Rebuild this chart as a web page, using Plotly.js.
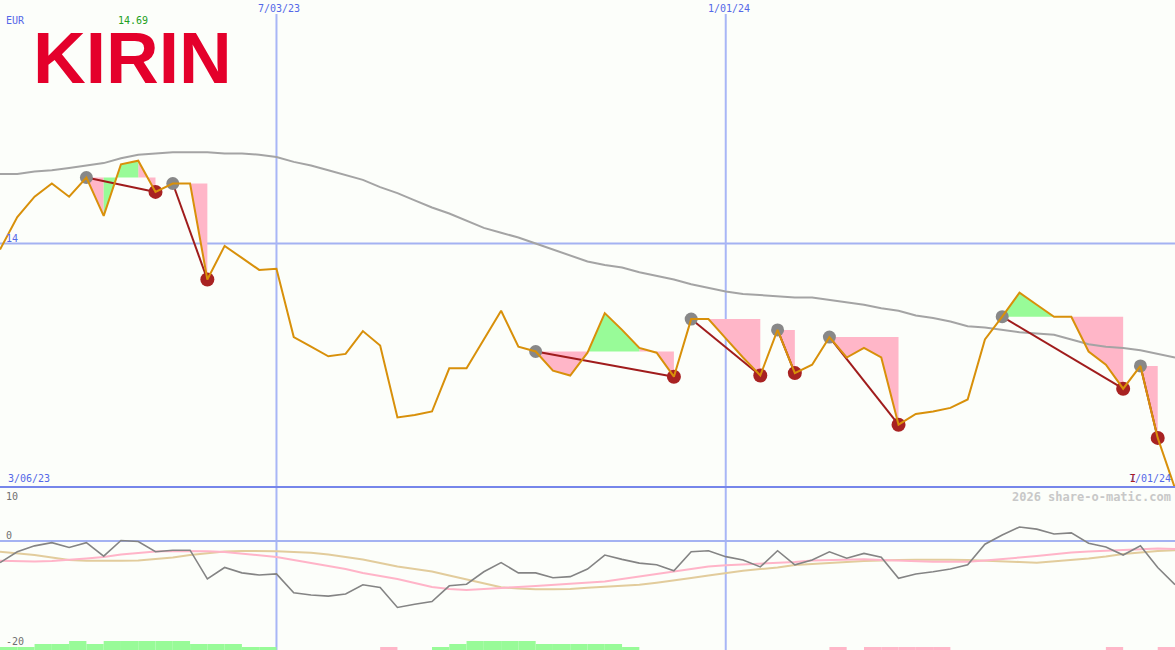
<!DOCTYPE html>
<html><head><meta charset="utf-8">
<script src="https://cdn.plot.ly/plotly-3.0.1.min.js"></script>
<style>html,body{margin:0;padding:0;background:#fcfefa;}#chart{width:1175px;height:650px;}</style>
</head><body><div id="chart"></div>
<script>
// ---- data ----
const weeks = [
 '2023-03-13','2023-03-20','2023-03-27','2023-04-03','2023-04-10','2023-04-17','2023-04-24','2023-05-01','2023-05-08','2023-05-15',
 '2023-05-22','2023-05-29','2023-06-05','2023-06-12','2023-06-19','2023-06-26','2023-07-03','2023-07-10','2023-07-17','2023-07-24',
 '2023-07-31','2023-08-07','2023-08-14','2023-08-21','2023-08-28','2023-09-04','2023-09-11','2023-09-18','2023-09-25','2023-10-02',
 '2023-10-09','2023-10-16','2023-10-23','2023-10-30','2023-11-06','2023-11-13','2023-11-20','2023-11-27','2023-12-04','2023-12-11',
 '2023-12-18','2023-12-25','2024-01-01','2024-01-08','2024-01-15','2024-01-22','2024-01-29','2024-02-05','2024-02-12','2024-02-19',
 '2024-02-26','2024-03-04','2024-03-11','2024-03-18','2024-03-25','2024-04-01','2024-04-08','2024-04-15','2024-04-22','2024-04-29',
 '2024-05-06','2024-05-13','2024-05-20','2024-05-27','2024-06-03','2024-06-10','2024-06-17','2024-06-24','2024-07-01'];

const price = [13.95,14.22,14.39,14.50,14.39,14.55,14.23,14.66,14.69,14.43,
 14.50,14.50,13.70,13.98,13.88,13.78,13.79,13.22,13.14,13.06,
 13.08,13.27,13.15,12.55,12.57,12.60,12.96,12.96,13.20,13.44,
 13.14,13.10,12.94,12.90,13.09,13.42,13.28,13.13,13.09,12.89,
 13.37,13.37,13.21,13.05,12.90,13.28,12.92,12.99,13.22,13.05,
 13.13,13.05,12.49,12.58,12.60,12.63,12.70,13.20,13.39,13.59,
 13.49,13.39,13.39,13.10,12.99,12.79,12.98,12.38,11.96];

const movingAvg = [14.58,14.58,14.60,14.61,14.63,14.65,14.67,14.71,14.74,14.75,
 14.76,14.76,14.76,14.75,14.75,14.74,14.72,14.68,14.65,14.61,
 14.57,14.53,14.47,14.42,14.36,14.30,14.25,14.19,14.13,14.09,
 14.05,14.00,13.95,13.90,13.85,13.82,13.80,13.76,13.73,13.70,
 13.66,13.63,13.60,13.58,13.57,13.56,13.55,13.55,13.53,13.51,
 13.49,13.46,13.44,13.40,13.38,13.35,13.31,13.30,13.28,13.26,
 13.25,13.24,13.20,13.16,13.14,13.13,13.11,13.08,13.05];

const oscillator = [-4.0,-2.0,-0.9,-0.3,-1.2,-0.3,-2.8,0.1,-0.1,-2.0,
 -1.7,-1.7,-7.0,-4.9,-5.9,-6.3,-6.1,-9.6,-10.0,-10.2,
 -9.8,-8.1,-8.6,-12.3,-11.7,-11.2,-8.3,-8.0,-5.7,-4.0,
 -5.9,-5.9,-6.8,-6.6,-5.2,-2.6,-3.4,-4.1,-4.4,-5.5,
 -2.0,-1.8,-2.9,-3.5,-4.8,-1.8,-4.4,-3.5,-2.0,-3.2,
 -2.3,-3.0,-6.9,-6.1,-5.7,-5.2,-4.4,-0.6,1.1,2.6,
 2.2,1.3,1.5,-0.4,-1.1,-2.6,-0.9,-4.9,-8.1];

const signalPink = [-3.65,-3.76,-3.80,-3.70,-3.52,-3.24,-2.96,-2.50,-2.22,-1.94,
 -1.85,-1.85,-1.91,-2.04,-2.31,-2.59,-2.96,-3.52,-4.07,-4.63,
 -5.19,-5.93,-6.48,-7.04,-7.78,-8.52,-8.89,-9.07,-8.89,-8.76,
 -8.52,-8.33,-8.15,-7.96,-7.69,-7.50,-7.04,-6.57,-6.02,-5.56,
 -5.09,-4.72,-4.50,-4.35,-4.17,-4.07,-3.89,-3.61,-3.52,-3.46,
 -3.39,-3.52,-3.65,-3.76,-3.83,-3.83,-3.83,-3.61,-3.39,-3.06,
 -2.78,-2.41,-2.13,-1.94,-1.80,-1.61,-1.48,-1.39,-1.48];

const signalTan = [-1.98,-2.22,-2.59,-3.06,-3.52,-3.65,-3.70,-3.67,-3.61,-3.37,
 -3.06,-2.59,-2.22,-1.94,-1.85,-1.85,-1.91,-2.04,-2.19,-2.50,
 -2.96,-3.43,-4.07,-4.72,-5.19,-5.65,-6.39,-7.09,-7.87,-8.57,
 -8.80,-8.94,-8.93,-8.89,-8.65,-8.43,-8.24,-8.09,-7.72,-7.35,
 -6.85,-6.39,-5.93,-5.50,-5.19,-4.91,-4.44,-4.22,-4.07,-3.89,
 -3.70,-3.57,-3.52,-3.46,-3.39,-3.46,-3.52,-3.61,-3.70,-3.89,
 -4.02,-3.80,-3.52,-3.24,-2.87,-2.41,-2.13,-1.85,-1.72];

const histogram = [1,1,2,2,3,2,3,3,3,3,
 3,2,2,2,1,1,0,0,0,0,
 0,0,-1,0,0,1,2,3,3,3,
 3,2,2,2,2,2,1,0,0,0,
 0,0,0,0,0,0,0,0,-1,0,
 -1,-1,-1,-1,-1,0,0,0,0,0,
 0,0,0,0,-1,0,0,-1,0];

// peak index -> trough index
const swingPairs = [[5,9],[10,12],[31,39],[40,44],[45,46],[48,52],[58,65],[66,67]];
const priceGrid = [14];
const dateMarks = ['2023-07-03','2024-01-01'];
const dateMarkLabels = ['7/03/23','1/01/24'];

// ---- derived traces ----
const fillPink = {x:[], y:[]}, fillGreen = {x:[], y:[]};
const swingLine = {x:[], y:[]};
swingPairs.forEach(([a,b]) => {
  const L = price[a];
  for (let i=a; i<b; i++) {
    const p0 = price[i], p1 = price[i+1];
    if (p0 === L && p1 === L) continue;
    const t = p1 >= L ? fillGreen : fillPink;
    t.x.push(weeks[i], weeks[i], weeks[i+1], weeks[i+1], null);
    t.y.push(L, p0, p1, L, null);
  }
  swingLine.x.push(weeks[a], weeks[b], null);
  swingLine.y.push(price[a], price[b], null);
});

const W = 7*24*3600*1000;
const traces = [
  {x:fillPink.x, y:fillPink.y, type:'scatter', mode:'none', fill:'toself', fillcolor:'#ffb6c8', hoverinfo:'skip'},
  {x:fillGreen.x, y:fillGreen.y, type:'scatter', mode:'none', fill:'toself', fillcolor:'#98fb98', hoverinfo:'skip'},
  {x:weeks, y:movingAvg, type:'scatter', mode:'lines', line:{color:'#a4a4a4', width:2}},
  {x:swingLine.x, y:swingLine.y, type:'scatter', mode:'lines', line:{color:'#a01c1c', width:2}},
  {x:swingPairs.map(p=>weeks[p[0]]), y:swingPairs.map(p=>price[p[0]]), type:'scatter', mode:'markers', marker:{color:'#888888', size:13}},
  {x:swingPairs.map(p=>weeks[p[1]]), y:swingPairs.map(p=>price[p[1]]), type:'scatter', mode:'markers', marker:{color:'#a82222', size:14}},
  {x:weeks, y:price, type:'scatter', mode:'lines', line:{color:'#d8900a', width:2}},
  // lower pane
  {x:weeks, y:histogram.map(v=>v>0?v:0), type:'bar', yaxis:'y3', marker:{color:'#98fb98', line:{width:0}}, offset:0, width:W},
  {x:weeks, y:histogram.map(v=>v<0?-v:0), type:'bar', yaxis:'y3', marker:{color:'#ffb6c8', line:{width:0}}, offset:0, width:W},
  {x:weeks, y:signalTan, type:'scatter', mode:'lines', yaxis:'y2', line:{color:'#e2cc9c', width:2}},
  {x:weeks, y:signalPink, type:'scatter', mode:'lines', yaxis:'y2', line:{color:'#ffb4c8', width:2}},
  {x:weeks, y:oscillator, type:'scatter', mode:'lines', yaxis:'y2', line:{color:'#848484', width:1.6}}
];

const H = 650, Wd = 1175;
const split = 163/650;
const px = v => v/Wd, py = v => 1 - v/H;
const mono = 'DejaVu Sans Mono';
const blue = '#5468e8';

const shapes = [];
priceGrid.forEach(g => shapes.push({type:'line', xref:'paper', x0:0, x1:1, yref:'y', y0:g, y1:g, line:{color:'#a4b2f2', width:2}, layer:'below'}));
dateMarks.forEach(d => shapes.push({type:'line', xref:'x', x0:d, x1:d, yref:'paper', y0:0, y1:py(14), line:{color:'#a8b6f6', width:2}, layer:'below'}));
shapes.push({type:'line', xref:'paper', x0:0, x1:1, yref:'y2', y0:0, y1:0, line:{color:'#a4b2f2', width:2}, layer:'below'});
shapes.push({type:'line', xref:'paper', x0:0, x1:1, yref:'paper', y0:split, y1:split, line:{color:'#7686ea', width:2}, layer:'above'});

const ann = (text, x, y, opts={}) => Object.assign({text, xref:'paper', yref:'paper', x:px(x), y:py(y), xanchor:'left', yanchor:'middle', showarrow:false, font:{family:mono, size:10, color:blue}}, opts);
const annotations = [
  ann('EUR', 4, 20),
  ann(String(Math.max(...price).toFixed(2)), 116, 20, {font:{family:mono, size:10, color:'#22a022'}}),
  ann('<b>KIRIN</b>', 31, 58, {font:{family:'Liberation Sans', size:73, color:'#e4002b'}}),
  ann(String(priceGrid[0]), 4, 238),
  ann('3/06/23', 6, 478),
  ann('7/01/24', 1173, 478, {xanchor:'right'}),
  ann('I', 1133, 478, {xanchor:'center', font:{family:mono, size:10, color:'#b02020'}}),
  ann('10', 4, 496, {font:{family:mono, size:10, color:'#707070'}}),
  ann('0', 4, 535, {font:{family:mono, size:10, color:'#707070'}}),
  ann('-20', 4, 641, {font:{family:mono, size:10, color:'#707070'}}),
  ann('<b>2026 share-o-matic.com</b>', 1173, 497, {xanchor:'right', font:{family:mono, size:12, color:'#c8c8c8'}})
];
dateMarks.forEach((d,i) => annotations.push({text:dateMarkLabels[i], xref:'x', x:d, yref:'paper', y:py(8), xanchor:'center', yanchor:'middle', xshift:3, showarrow:false, font:{family:mono, size:10, color:blue}}));

const layout = {
  width:Wd, height:H, margin:{l:0,r:0,t:0,b:0,pad:0},
  paper_bgcolor:'#fcfefa', plot_bgcolor:'#fcfefa', showlegend:false,
  xaxis:{type:'date', range:['2023-03-13','2024-07-01'], showgrid:false, zeroline:false, showticklabels:false, showline:false, ticks:''},
  yaxis:{domain:[split,1], range:[11.9708,16.0292], showgrid:false, zeroline:false, showticklabels:false, ticks:''},
  yaxis2:{domain:[0,split], range:[-20.185,10], showgrid:false, zeroline:false, showticklabels:false, ticks:''},
  yaxis3:{overlaying:'y2', range:[0,54.33], showgrid:false, zeroline:false, showticklabels:false, ticks:''},
  barmode:'overlay', shapes, annotations
};
Plotly.newPlot('chart', traces, layout, {staticPlot:true, displayModeBar:false});
</script>
</body></html>
